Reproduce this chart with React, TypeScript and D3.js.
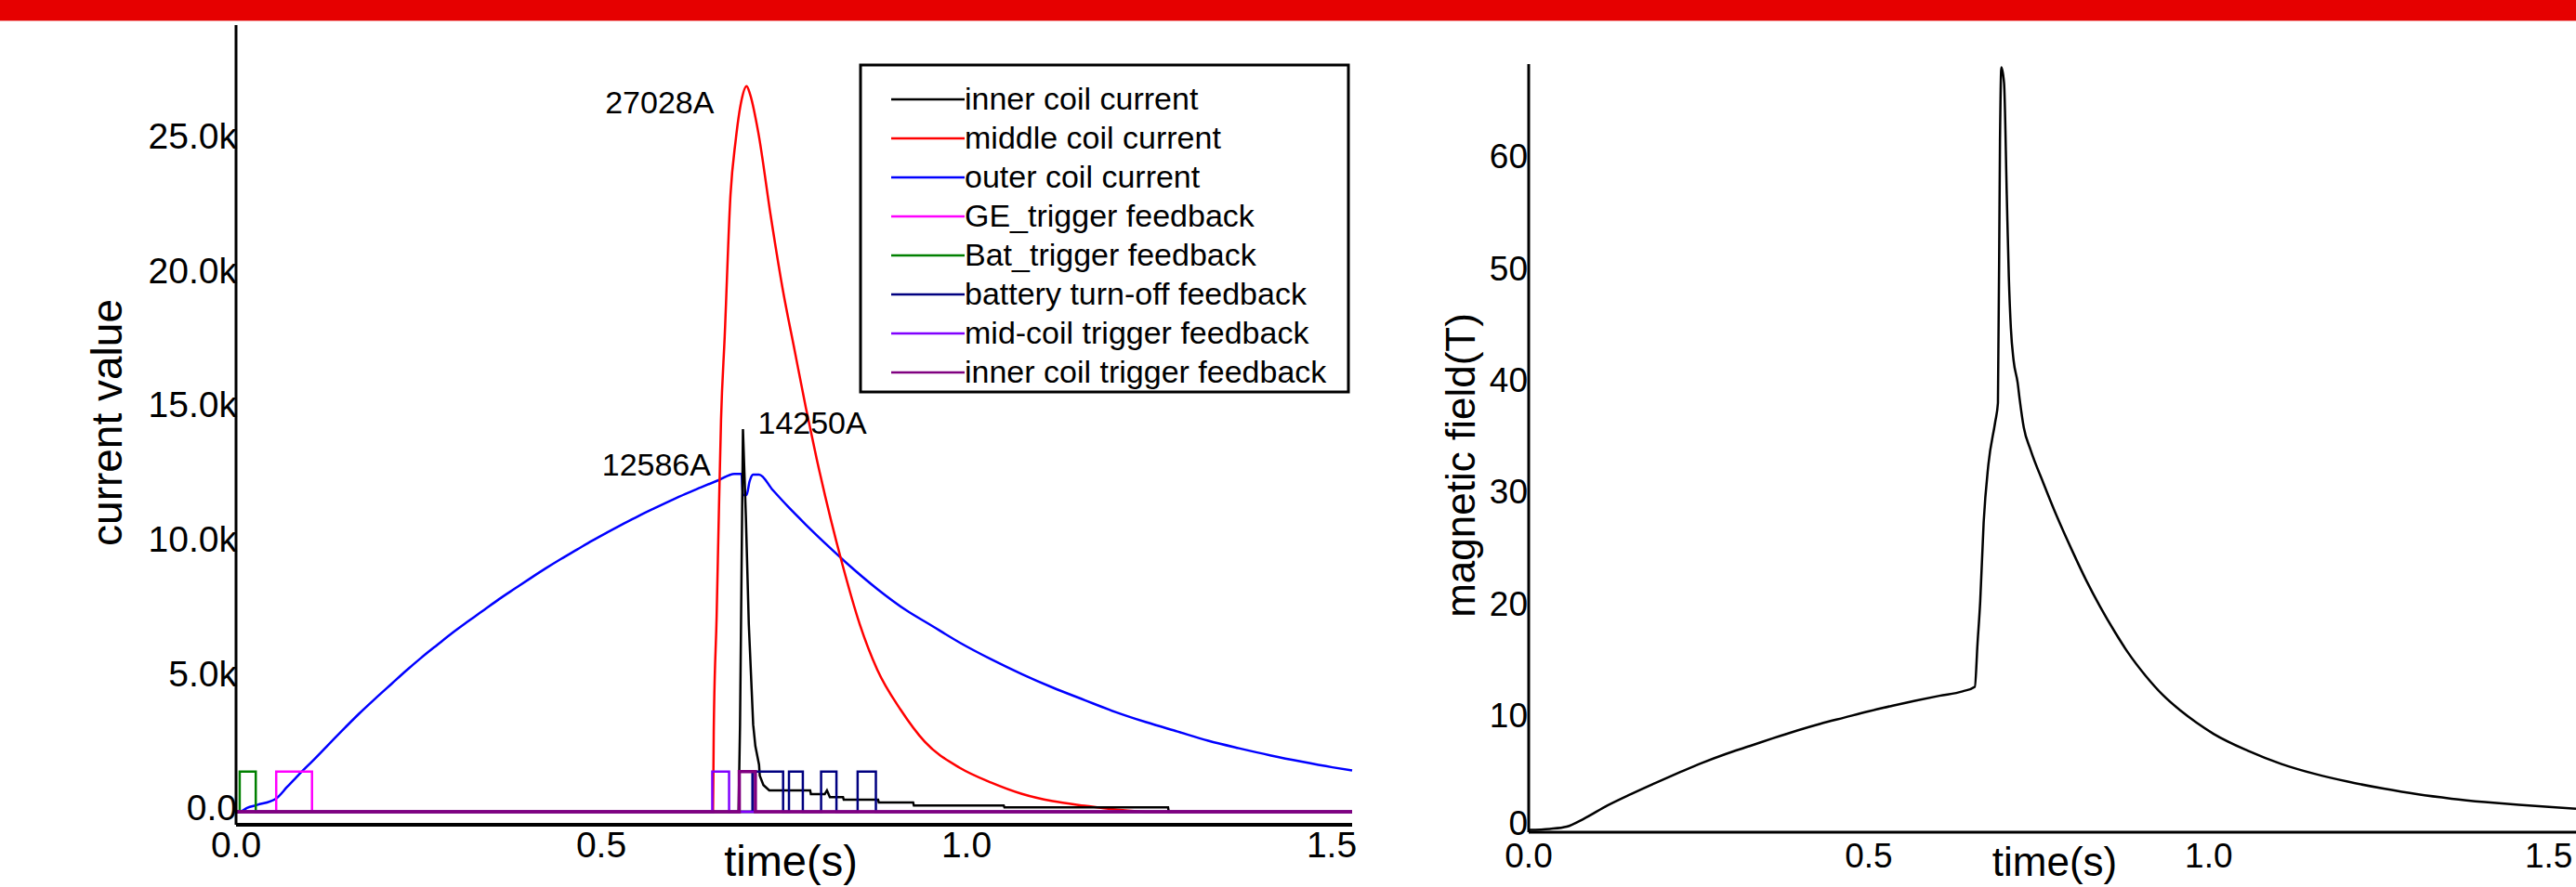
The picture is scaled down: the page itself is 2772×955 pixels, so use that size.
import React, { useEffect } from 'react';
import * as d3 from 'd3';

const WIDTH = 2772;
const HEIGHT = 955;
const FONT = '"Liberation Sans", Arial, sans-serif';

type Pt = [number, number];

// ---- left panel: coil currents (A) against time (s) ----
const outerCoil: Pt[] = [
  [0, 0], [0.005, 0], [0.015, 150], [0.029, 260], [0.055, 500], [0.07, 930],
  [0.085, 1360], [0.106, 1930], [0.127, 2520], [0.149, 3130], [0.169, 3670],
  [0.191, 4230], [0.213, 4770], [0.233, 5260], [0.254, 5750], [0.276, 6230],
  [0.296, 6660], [0.318, 7100], [0.34, 7530], [0.36, 7920], [0.382, 8320],
  [0.403, 8700], [0.424, 9070], [0.445, 9420], [0.467, 9770], [0.487, 10090],
  [0.509, 10420], [0.531, 10740], [0.551, 11020], [0.573, 11310], [0.594, 11580],
  [0.615, 11840], [0.636, 12080], [0.662, 12370], [0.682, 12586], [0.692, 12586],
  [0.694, 11800], [0.699, 11800], [0.703, 12300], [0.708, 12560], [0.716, 12560],
  [0.735, 11980], [0.756, 11360], [0.78, 10700], [0.813, 9840], [0.837, 9240],
  [0.878, 8300], [0.918, 7500], [0.949, 6990], [0.991, 6300], [1.034, 5680],
  [1.076, 5130], [1.118, 4630], [1.162, 4160], [1.204, 3720], [1.246, 3340],
  [1.289, 2990], [1.331, 2650], [1.373, 2370], [1.417, 2100], [1.459, 1870],
  [1.501, 1660], [1.528, 1540],
];

const middleCoil: Pt[] = [
  [0, 0], [0.653, 0], [0.654, 3000], [0.658, 7300], [0.661, 11100], [0.664, 14600],
  [0.669, 17700], [0.677, 23000], [0.684, 25000], [0.692, 26500], [0.699, 27028],
  [0.704, 26700], [0.715, 25300], [0.732, 22200], [0.748, 19530], [0.765, 17150],
  [0.78, 15070], [0.795, 13140], [0.83, 9230], [0.854, 6980], [0.878, 5290],
  [0.91, 3800], [0.943, 2610], [0.991, 1640], [1.034, 1090], [1.076, 670],
  [1.118, 400], [1.162, 230], [1.204, 90], [1.254, 0], [1.528, 0],
];

const innerCoil: Pt[] = [
  [0, 0], [0.688, 0], [0.69, 3250], [0.694, 14250], [0.698, 11000], [0.702, 7000],
  [0.706, 4500], [0.708, 3250], [0.711, 2450], [0.716, 1760], [0.717, 1350],
  [0.722, 1000], [0.73, 800], [0.786, 800], [0.787, 660], [0.806, 660], [0.809, 800],
  [0.813, 550], [0.831, 550], [0.832, 450], [0.879, 450], [0.88, 350], [0.927, 350],
  [0.928, 240], [1.051, 240], [1.052, 170], [1.276, 170], [1.277, 0], [1.528, 0],
];

const geTrigger: Pt[] = [
  [0, 0], [0.055, 0], [0.055, 1500], [0.104, 1500], [0.104, 0], [1.528, 0],
];

const batTrigger: Pt[] = [
  [0, 0], [0.005, 0], [0.005, 1500], [0.027, 1500], [0.027, 0], [1.528, 0],
];

const batteryOff: Pt[] = [
  [0, 0], [0.707, 0], [0.707, 1500], [0.749, 1500], [0.749, 0], [0.757, 0],
  [0.757, 1500], [0.776, 1500], [0.776, 0], [0.801, 0], [0.801, 1500],
  [0.822, 1500], [0.822, 0], [0.851, 0], [0.851, 1500], [0.876, 1500],
  [0.876, 0], [1.528, 0],
];

const midCoilTrigger: Pt[] = [
  [0, 0], [0.652, 0], [0.652, 1500], [0.675, 1500], [0.675, 0], [1.528, 0],
];

const innerCoilTrigger: Pt[] = [
  [0, 0], [0.689, 0], [0.689, 1500], [0.711, 1500], [0.711, 0], [1.528, 0],
];

const legendLabels = [
  'inner coil current',
  'middle coil current',
  'outer coil current',
  'GE_trigger feedback',
  'Bat_trigger feedback',
  'battery turn-off feedback',
  'mid-coil trigger feedback',
  'inner coil trigger feedback',
];
const legendColors = ['#000000', '#ff0000', '#0000ff', '#ff00ff', '#008000', '#000080', '#8000ff', '#800080'];
const currentSeries = [innerCoil, middleCoil, outerCoil, geTrigger, batTrigger, batteryOff, midCoilTrigger, innerCoilTrigger];
// drawing order: outer, middle, inner, then the feedback pulses
const drawOrder = [2, 1, 0, 3, 4, 5, 6, 7];
// the two smooth coil currents get a monotone curve, the rest stay as steps
const smoothSeries = [1, 2];

const currentTicks = [0, 5000, 10000, 15000, 20000, 25000];
const timeTicks = [0, 0.5, 1.0, 1.5];

const peakLabels = [
  { text: '27028A', t: 0.699, v: 27028 },
  { text: '12586A', t: 0.687, v: 12586 },
  { text: '14250A', t: 0.694, v: 14250 },
];

// ---- right panel: magnetic field (T) against time (s) ----
const field: Pt[] = [
  [0, 0], [0.031, 0.1], [0.056, 0.3], [0.081, 1.0], [0.116, 2.2], [0.15, 3.2],
  [0.186, 4.2], [0.22, 5.1], [0.255, 6.0], [0.29, 6.8], [0.325, 7.5], [0.359, 8.2],
  [0.395, 8.9], [0.429, 9.5], [0.464, 10.05], [0.499, 10.6], [0.534, 11.1],
  [0.568, 11.55], [0.604, 12.0], [0.638, 12.4], [0.656, 12.8], [0.66, 16.7],
  [0.664, 20.5], [0.669, 27.5], [0.676, 32.7], [0.686, 36.5], [0.69, 38.2],
  [0.693, 61.6], [0.695, 68.2], [0.699, 66.8], [0.703, 56.8], [0.706, 49.5],
  [0.709, 44.9], [0.713, 42.0], [0.719, 40.0], [0.722, 38.5], [0.728, 36.0],
  [0.738, 34.0], [0.757, 31.0], [0.777, 28.0], [0.799, 25.0], [0.82, 22.3],
  [0.84, 20.0], [0.862, 17.7], [0.882, 15.8], [0.907, 13.8], [0.932, 12.1],
  [0.958, 10.7], [0.982, 9.6], [1.007, 8.6], [1.057, 7.1], [1.107, 5.9],
  [1.157, 5.0], [1.206, 4.3], [1.257, 3.7], [1.306, 3.2], [1.357, 2.8],
  [1.406, 2.5], [1.456, 2.25], [1.505, 2.05], [1.54, 1.9],
];

const fieldTicks = [0, 10, 20, 30, 40, 50, 60];

const fmtCurrent = (v: number) => (v === 0 ? '0.0' : `${d3.format('.1f')(v / 1000)}k`);
const fmtTime = d3.format('.1f');

const CurrentPanel = () => {
  const x = d3.scaleLinear().domain([0, 1.528]).range([254, 1455]);
  const y = d3.scaleLinear().domain([-480, 29300]).range([888, 27]);
  const stepLine = d3
    .line<Pt>()
    .x((d) => x(d[0]))
    .y((d) => y(d[1]));
  const smoothLine = d3
    .line<Pt>()
    .x((d) => x(d[0]))
    .y((d) => y(d[1]))
    .curve(d3.curveMonotoneX);

  const lx = 926;
  const ly = 70;
  const rowH = 42;

  return (
    <g fontFamily={FONT}>
      {drawOrder.map((i) => (
        <path
          key={legendLabels[i]}
          d={(smoothSeries.includes(i) ? smoothLine : stepLine)(currentSeries[i]) || ''}
          fill="none"
          stroke={legendColors[i]}
          strokeWidth={i === 7 ? 3.5 : 2.5}
        />
      ))}

      {/* axes */}
      <line x1={x(0)} x2={x(0)} y1={y.range()[1]} y2={y.range()[0]} stroke="#000" strokeWidth={3} />
      <line x1={x(0)} x2={x.range()[1]} y1={y.range()[0]} y2={y.range()[0]} stroke="#000" strokeWidth={4} />

      {currentTicks.map((t) => (
        <text key={t} x={x(0) + 1} y={y(t) + 9} fontSize={39} textAnchor="end" fill="#000">
          {fmtCurrent(t)}
        </text>
      ))}
      {timeTicks.map((t) => (
        <text key={t} x={x(t)} y={923} fontSize={39} textAnchor="middle" fill="#000">
          {fmtTime(t)}
        </text>
      ))}

      <text x={851} y={943} fontSize={47} textAnchor="middle" fill="#000">
        time(s)
      </text>
      <text transform="translate(131,455) rotate(-90)" fontSize={46} textAnchor="middle" fill="#000">
        current value
      </text>

      {/* peak annotations */}
      <text x={x(peakLabels[0].t) - 35} y={y(peakLabels[0].v) + 29} fontSize={34} textAnchor="end" fill="#000">
        {peakLabels[0].text}
      </text>
      <text x={x(peakLabels[1].t) - 29} y={y(peakLabels[1].v) + 2} fontSize={34} textAnchor="end" fill="#000">
        {peakLabels[1].text}
      </text>
      <text x={x(peakLabels[2].t) + 16} y={y(peakLabels[2].v) + 5} fontSize={34} textAnchor="start" fill="#000">
        {peakLabels[2].text}
      </text>

      {/* legend */}
      <rect x={lx} y={ly} width={525} height={352} fill="#fff" stroke="#000" strokeWidth={3} />
      {legendLabels.map((label, i) => (
        <g key={label} transform={`translate(0,${ly + 37 + i * rowH})`}>
          <line x1={959} x2={1038} y1={0} y2={0} stroke={legendColors[i]} strokeWidth={2.5} />
          <text x={1038} y={11} fontSize={34} fill="#000">
            {label}
          </text>
        </g>
      ))}
    </g>
  );
};

const FieldPanel = () => {
  const x = d3.scaleLinear().domain([0, 1.54]).range([1645, 2772]);
  const y = d3.scaleLinear().domain([-0.2, 68.5]).range([896, 69]);
  const line = d3
    .line<Pt>()
    .x((d) => x(d[0]))
    .y((d) => y(d[1]))
    .curve(d3.curveMonotoneX);

  return (
    <g fontFamily={FONT}>
      <path d={line(field) || ''} fill="none" stroke="#000" strokeWidth={2.5} />
      <line x1={x(0)} x2={x(0)} y1={69} y2={896} stroke="#000" strokeWidth={3} />
      <line x1={x(0)} x2={WIDTH} y1={896} y2={896} stroke="#000" strokeWidth={3} />

      {fieldTicks.map((t) => (
        <text key={t} x={x(0) - 1} y={y(t) + (t === 0 ? 5 : 10)} fontSize={37} textAnchor="end" fill="#000">
          {t}
        </text>
      ))}
      {timeTicks.map((t) => (
        <text key={t} x={x(t)} y={934} fontSize={37} textAnchor="middle" fill="#000">
          {fmtTime(t)}
        </text>
      ))}

      <text x={2211} y={943} fontSize={44} textAnchor="middle" fill="#000">
        time(s)
      </text>
      <text transform="translate(1587,501) rotate(-90)" fontSize={44} textAnchor="middle" fill="#000">
        magnetic field(T)
      </text>
    </g>
  );
};

const App = () => {
  useEffect(() => {
    document.body.style.margin = '0';
  }, []);

  return (
    <svg
      width={WIDTH}
      height={HEIGHT}
      viewBox={`0 0 ${WIDTH} ${HEIGHT}`}
      style={{ position: 'absolute', left: 0, top: 0, display: 'block', background: '#fff' }}
    >
      <rect x={0} y={0} width={WIDTH} height={HEIGHT} fill="#fff" />
      <rect x={0} y={0} width={WIDTH} height={22} fill="#e60000" />
      <rect x={0} y={22} width={WIDTH} height={1} fill="#f3a0a0" />
      <CurrentPanel />
      <FieldPanel />
    </svg>
  );
};

export default App;
